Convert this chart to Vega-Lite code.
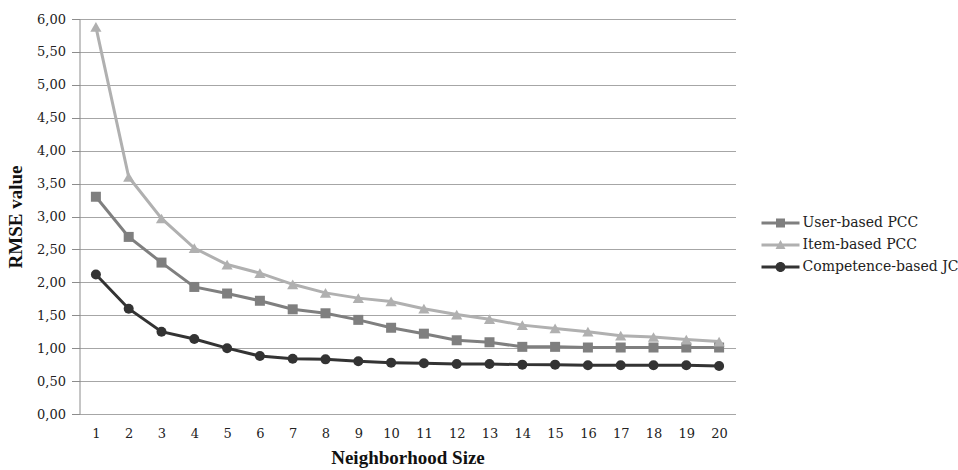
{
  "$schema": "https://vega.github.io/schema/vega-lite/v6.json",
  "width": 656,
  "height": 395,
  "autosize": {"type": "none"},
  "padding": {"left": 79.5, "top": 19, "right": 222.5, "bottom": 56},
  "background": "white",
  "config": {
    "font": "Liberation Serif",
    "view": {"stroke": null},
    "axis": {"labelFont": "DejaVu Serif", "titleFont": "Liberation Serif", "labelColor": "#222", "titleColor": "#111"},
    "legend": {"labelFont": "DejaVu Serif"}
  },
  "data": {
    "values": [
      {"n": 1, "series": "User-based PCC", "v": 3.30},
      {"n": 2, "series": "User-based PCC", "v": 2.69},
      {"n": 3, "series": "User-based PCC", "v": 2.30},
      {"n": 4, "series": "User-based PCC", "v": 1.93},
      {"n": 5, "series": "User-based PCC", "v": 1.83},
      {"n": 6, "series": "User-based PCC", "v": 1.72},
      {"n": 7, "series": "User-based PCC", "v": 1.59},
      {"n": 8, "series": "User-based PCC", "v": 1.53},
      {"n": 9, "series": "User-based PCC", "v": 1.43},
      {"n": 10, "series": "User-based PCC", "v": 1.31},
      {"n": 11, "series": "User-based PCC", "v": 1.22},
      {"n": 12, "series": "User-based PCC", "v": 1.12},
      {"n": 13, "series": "User-based PCC", "v": 1.09},
      {"n": 14, "series": "User-based PCC", "v": 1.02},
      {"n": 15, "series": "User-based PCC", "v": 1.02},
      {"n": 16, "series": "User-based PCC", "v": 1.01},
      {"n": 17, "series": "User-based PCC", "v": 1.01},
      {"n": 18, "series": "User-based PCC", "v": 1.01},
      {"n": 19, "series": "User-based PCC", "v": 1.01},
      {"n": 20, "series": "User-based PCC", "v": 1.01},
      {"n": 1, "series": "Item-based PCC", "v": 5.88},
      {"n": 2, "series": "Item-based PCC", "v": 3.60},
      {"n": 3, "series": "Item-based PCC", "v": 2.97},
      {"n": 4, "series": "Item-based PCC", "v": 2.52},
      {"n": 5, "series": "Item-based PCC", "v": 2.27},
      {"n": 6, "series": "Item-based PCC", "v": 2.14},
      {"n": 7, "series": "Item-based PCC", "v": 1.97},
      {"n": 8, "series": "Item-based PCC", "v": 1.84},
      {"n": 9, "series": "Item-based PCC", "v": 1.76},
      {"n": 10, "series": "Item-based PCC", "v": 1.71},
      {"n": 11, "series": "Item-based PCC", "v": 1.60},
      {"n": 12, "series": "Item-based PCC", "v": 1.51},
      {"n": 13, "series": "Item-based PCC", "v": 1.44},
      {"n": 14, "series": "Item-based PCC", "v": 1.35},
      {"n": 15, "series": "Item-based PCC", "v": 1.30},
      {"n": 16, "series": "Item-based PCC", "v": 1.25},
      {"n": 17, "series": "Item-based PCC", "v": 1.19},
      {"n": 18, "series": "Item-based PCC", "v": 1.17},
      {"n": 19, "series": "Item-based PCC", "v": 1.13},
      {"n": 20, "series": "Item-based PCC", "v": 1.10},
      {"n": 1, "series": "Competence-based JC", "v": 2.12},
      {"n": 2, "series": "Competence-based JC", "v": 1.60},
      {"n": 3, "series": "Competence-based JC", "v": 1.25},
      {"n": 4, "series": "Competence-based JC", "v": 1.14},
      {"n": 5, "series": "Competence-based JC", "v": 1.00},
      {"n": 6, "series": "Competence-based JC", "v": 0.88},
      {"n": 7, "series": "Competence-based JC", "v": 0.84},
      {"n": 8, "series": "Competence-based JC", "v": 0.83},
      {"n": 9, "series": "Competence-based JC", "v": 0.80},
      {"n": 10, "series": "Competence-based JC", "v": 0.78},
      {"n": 11, "series": "Competence-based JC", "v": 0.77},
      {"n": 12, "series": "Competence-based JC", "v": 0.76},
      {"n": 13, "series": "Competence-based JC", "v": 0.76},
      {"n": 14, "series": "Competence-based JC", "v": 0.75},
      {"n": 15, "series": "Competence-based JC", "v": 0.75},
      {"n": 16, "series": "Competence-based JC", "v": 0.74},
      {"n": 17, "series": "Competence-based JC", "v": 0.74},
      {"n": 18, "series": "Competence-based JC", "v": 0.74},
      {"n": 19, "series": "Competence-based JC", "v": 0.74},
      {"n": 20, "series": "Competence-based JC", "v": 0.73}
    ]
  },
  "encoding": {
    "x": {
      "field": "n", "type": "ordinal",
      "scale": {"type": "point", "padding": 0.5},
      "axis": {
        "title": "Neighborhood Size", "labelAngle": 0, "ticks": false, "domain": false,
        "labelFontSize": 13, "labelPadding": 13,
        "titleFontSize": 19, "titleFontWeight": "bold", "titlePadding": 8
      }
    },
    "y": {
      "field": "v", "type": "quantitative",
      "scale": {"domain": [0, 6], "nice": false, "zero": true},
      "axis": {
        "title": "RMSE value",
        "values": [0, 0.5, 1, 1.5, 2, 2.5, 3, 3.5, 4, 4.5, 5, 5.5, 6],
        "labelExpr": "replace(format(datum.value, '.2f'), '.', ',')",
        "labelFontSize": 13, "labelPadding": 6,
        "tickSize": 8, "tickColor": "#8c8c8c", "domainColor": "#8c8c8c",
        "gridColor": "#a6a6a6", "grid": true,
        "titleFontSize": 19, "titleFontWeight": "bold", "titlePadding": 11
      }
    },
    "color": {
      "field": "series", "type": "nominal",
      "scale": {
        "domain": ["User-based PCC", "Item-based PCC", "Competence-based JC"],
        "range": ["#7f7f7f", "#b0b0b0", "#333333"]
      },
      "legend": null
    }
  },
  "layer": [
    {
      "mark": {"type": "line", "strokeWidth": 3}
    },
    {
      "transform": [{"filter": "datum.series == 'User-based PCC'"}],
      "mark": {"type": "point", "filled": true, "opacity": 1, "shape": "square", "size": 100}
    },
    {
      "transform": [{"filter": "datum.series == 'Item-based PCC'"}],
      "mark": {"type": "point", "filled": true, "opacity": 1, "shape": "triangle-up", "size": 125}
    },
    {
      "transform": [{"filter": "datum.series == 'Competence-based JC'"}],
      "mark": {"type": "point", "filled": true, "opacity": 1, "shape": "circle", "size": 100}
    },
    {
      "transform": [{"filter": "datum.v < 0"}],
      "mark": {"type": "point", "filled": true, "opacity": 1},
      "encoding": {
        "color": null,
        "fill": {
          "field": "series", "type": "nominal",
          "scale": {
            "domain": ["User-based PCC", "Item-based PCC", "Competence-based JC"],
            "range": ["#7f7f7f", "#b0b0b0", "#333333"]
          },
          "legend": {
            "title": null, "orient": "none", "legendX": 694, "legendY": 197,
            "padding": 0, "labelFontSize": 14, "labelColor": "#222",
            "symbolSize": 100, "labelOffset": 15, "rowPadding": 8, "symbolStrokeWidth": 0
          }
        },
        "shape": {
          "field": "series", "type": "nominal",
          "scale": {
            "domain": ["User-based PCC", "Item-based PCC", "Competence-based JC"],
            "range": [
              "M-3.8,-0.3H3.8V0.3H-3.8Z M-0.9,-0.9H0.9V0.9H-0.9Z",
              "M-3.8,-0.3H3.8V0.3H-3.8Z M0,-1L1,0.8H-1Z",
              "M-3.8,-0.3H3.8V0.3H-3.8Z M-1,0A1,1 0 1,1 1,0A1,1 0 1,1 -1,0Z"
            ]
          },
          "legend": {
            "title": null, "orient": "none", "legendX": 694, "legendY": 197,
            "padding": 0, "labelFontSize": 14, "labelColor": "#222",
            "symbolSize": 100, "labelOffset": 15, "rowPadding": 8, "symbolStrokeWidth": 0
          }
        }
      }
    }
  ],
  "resolve": {
    "scale": {"shape": "independent", "fill": "independent"},
    "legend": {"shape": "independent", "fill": "independent"}
  }
}
